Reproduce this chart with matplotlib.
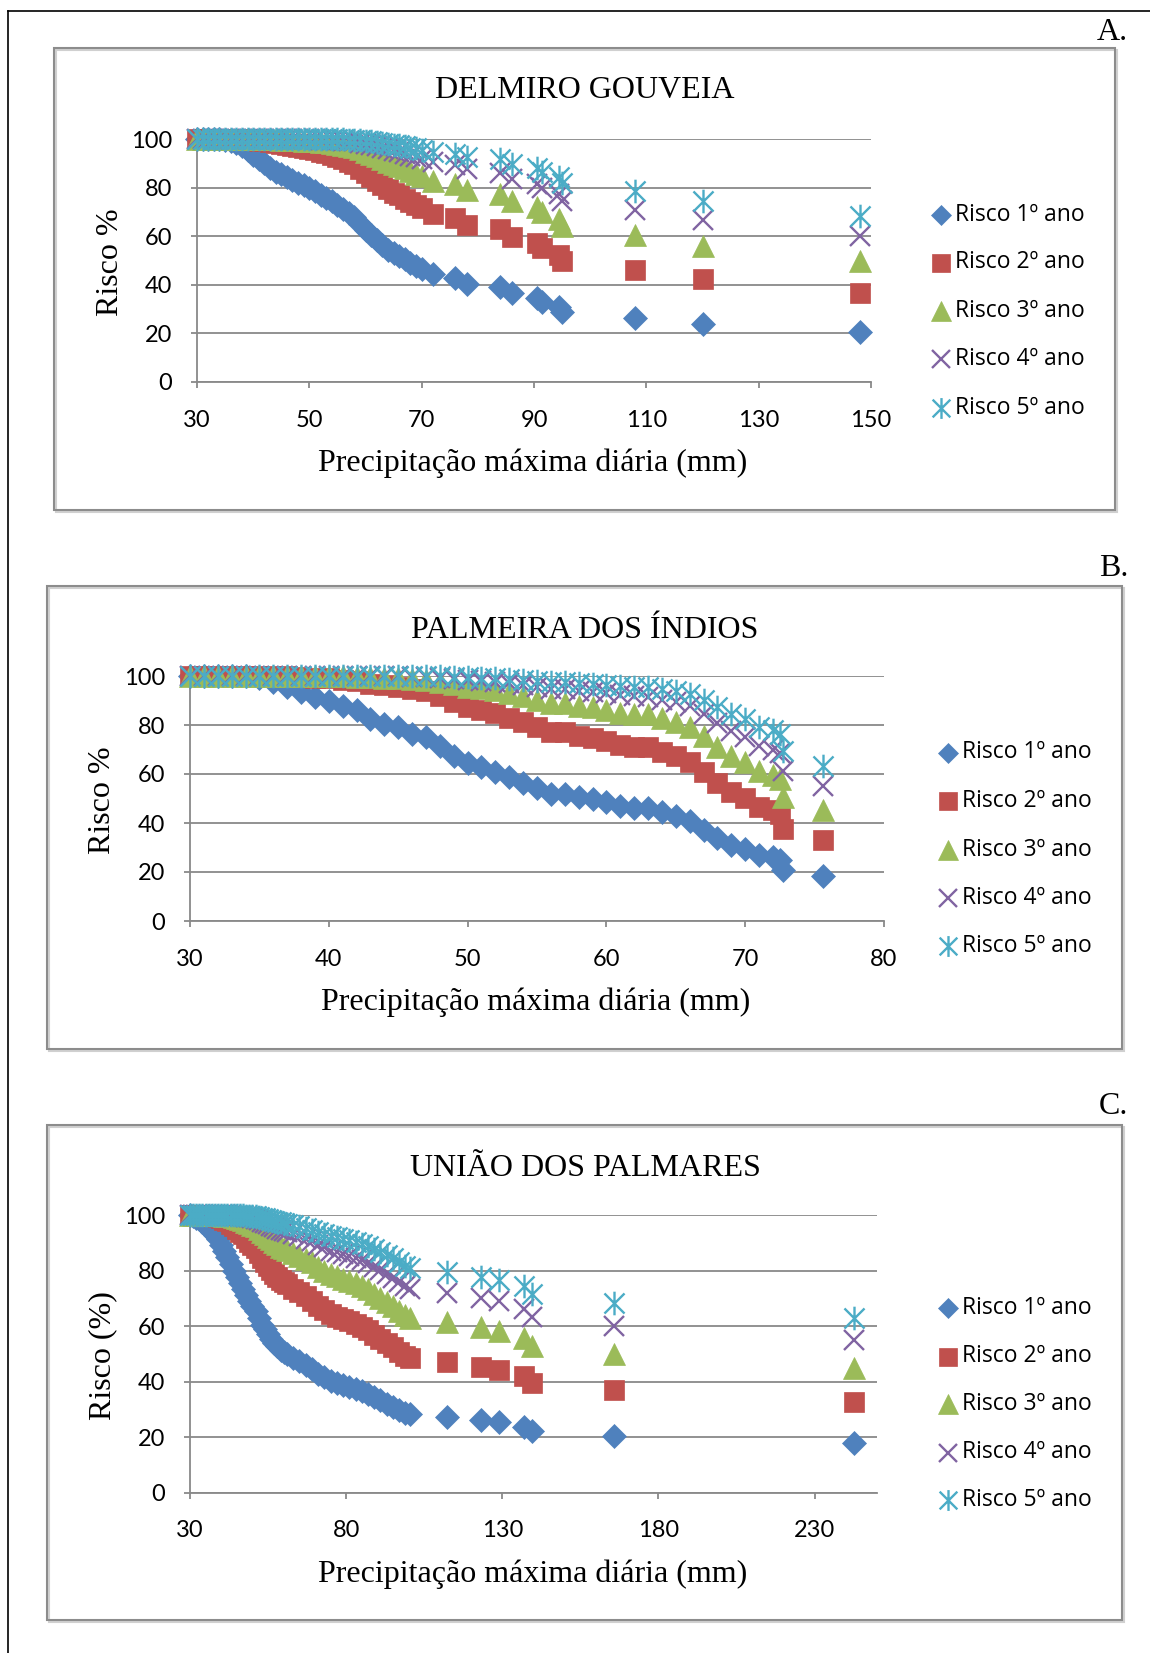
import matplotlib
matplotlib.use('Agg')
from matplotlib import pyplot as plt
from matplotlib.patches import Rectangle
from matplotlib.lines import Line2D
from matplotlib.path import Path

# ---- dados: precipitação (mm) e risco (%) para 1 a 5 anos ----
labels = ['Risco 1º ano', 'Risco 2º ano', 'Risco 3º ano', 'Risco 4º ano', 'Risco 5º ano']

# A. Delmiro Gouveia
a_x = [30, 31, 32, 33, 34, 35, 36, 37, 38, 39, 40, 41, 42, 43, 44, 45, 46, 47, 48, 49, 50,
       51, 52, 53, 54, 55, 56, 57, 58, 59, 60, 61, 62, 63, 64, 65, 66, 67, 68, 69, 70,
       72, 76, 78, 84, 86, 90.5, 91.5, 94.5, 95, 108, 120, 148]
a_r1 = [100, 100, 100, 100, 99.9, 99.7, 99.3, 98.5, 97, 95.3, 93.5, 91.8, 90, 88.2, 86.5, 85.5,
        84.5, 83.3, 82, 81, 79.8, 78.5, 77, 75.8, 74.5, 72.8, 71, 69.5, 68, 65, 62.5, 60.5, 58.5,
        56.5, 54.5, 53, 52, 50.5, 49, 47.8, 46.5,
        44.5, 43, 40.5, 39, 36.5, 34.5, 33, 31, 29, 26.5, 24, 20.5]
a_r2 = [100, 100, 100, 100, 100, 100, 100, 100, 99.9, 99.8, 99.6, 99.3, 99.0, 98.6, 98.2, 97.9,
        97.6, 97.2, 96.8, 96.4, 95.9, 95.4, 94.7, 94.1, 93.5, 92.6, 91.6, 90.7, 89.8, 87.8, 85.9,
        84.4, 82.8, 81.1, 79.3, 77.9, 77.0, 75.5, 74.0, 72.8, 71.4,
        69.2, 67.5, 64.6, 62.8, 59.7, 57.1, 55.1, 52.4, 49.6, 46.0, 42.2, 36.8]
a_r3 = [100, 100, 100, 100, 100, 100, 100, 100, 100, 100, 100, 99.9, 99.9, 99.8, 99.8, 99.7,
        99.6, 99.5, 99.4, 99.3, 99.2, 99.0, 98.8, 98.6, 98.3, 98.0, 97.6, 97.2, 96.7, 95.7, 94.7,
        93.8, 92.9, 91.8, 90.6, 89.6, 88.9, 87.9, 86.7, 85.8, 84.7,
        82.9, 81.5, 78.9, 77.3, 74.4, 71.9, 69.9, 67.1, 64.2, 60.3, 56.1, 49.8]
a_r4 = [100, 100, 100, 100, 100, 100, 100, 100, 100, 100, 100, 100, 100, 100, 100, 100,
        99.9, 99.9, 99.9, 99.9, 99.8, 99.8, 99.7, 99.7, 99.6, 99.5, 99.3, 99.1, 99.0, 98.5, 98.0,
        97.6, 97.0, 96.4, 95.7, 95.1, 94.7, 94.0, 93.2, 92.6, 91.8,
        90.5, 89.4, 87.5, 86.2, 83.7, 81.6, 79.8, 77.3, 74.6, 70.8, 66.6, 60.1]
a_r5 = [100, 100, 100, 100, 100, 100, 100, 100, 100, 100, 100, 100, 100, 100, 100, 100,
        100, 100, 100, 100, 100, 99.9, 99.9, 99.9, 99.9, 99.9, 99.8, 99.7, 99.7, 99.5, 99.3,
        99.0, 98.8, 98.4, 98.0, 97.7, 97.5, 97.0, 96.5, 96.1, 95.6,
        94.7, 94.0, 92.5, 91.6, 89.7, 87.9, 86.5, 84.4, 82.0, 78.5, 74.6, 68.2]

# B. Palmeira dos Índios
b_x = [30, 31, 32, 33, 34, 35, 36, 37, 38, 39, 40, 41, 42, 43, 44, 45, 46, 47, 48, 49, 50,
       51, 52, 53, 54, 55, 56, 57, 58, 59, 60, 61, 62, 63, 64, 65, 66, 67, 68, 69, 70,
       71, 72, 72.5, 72.7, 75.6]
b_r1 = [100, 100, 100, 100, 99.8, 99.2, 97.5, 95.5, 93.5, 91.5, 89.8, 87.8, 86, 82.5, 80.5, 79,
        76.5, 75, 71.5, 67.5, 64.5, 62.8, 61, 58.8, 56.5, 54.2, 52, 52, 50.5, 49.8, 48.5, 47,
        46.3, 46.2, 44.3, 42.8, 40.7, 37.3, 33.8, 31.2, 29.5, 27, 26, 25, 21, 18.2]
b_r2 = [100, 100, 100, 100, 100, 100, 99.9, 99.8, 99.6, 99.3, 99.0, 98.5, 98.0, 96.9, 96.2,
        95.6, 94.5, 93.8, 91.9, 89.4, 87.4, 86.2, 84.8, 83.0, 81.1, 79.0, 77.0, 77.0, 75.5, 74.8,
        73.5, 71.9, 71.2, 71.1, 69.0, 67.3, 64.8, 60.7, 56.2, 52.7, 50.3, 46.7, 45.2, 43.8, 37.6,
        33.1]
b_r3 = [100, 100, 100, 100, 100, 100, 100, 100, 100, 99.9, 99.9, 99.8, 99.7, 99.5, 99.3, 99.1,
        98.7, 98.4, 97.7, 96.6, 95.5, 94.9, 94.1, 93.0, 91.8, 90.4, 88.9, 88.9, 87.9, 87.3, 86.3,
        85.1, 84.5, 84.4, 82.7, 81.3, 79.2, 75.4, 71.0, 67.4, 65.0, 61.1, 59.5, 57.8, 50.7, 45.3]
b_r4 = [100, 100, 100, 100, 100, 100, 100, 100, 100, 100, 100, 100, 100, 99.9, 99.9, 99.8,
        99.7, 99.6, 99.3, 98.9, 98.4, 98.1, 97.7, 97.1, 96.4, 95.6, 94.7, 94.7, 94.0, 93.6, 93.0,
        92.1, 91.7, 91.6, 90.4, 89.3, 87.6, 84.5, 80.8, 77.6, 75.3, 71.6, 70.0, 68.4, 61.1, 55.2]
b_r5 = [100, 100, 100, 100, 100, 100, 100, 100, 100, 100, 100, 100, 100, 100, 100, 100,
        99.9, 99.9, 99.8, 99.6, 99.4, 99.3, 99.1, 98.8, 98.4, 98.0, 97.5, 97.5, 97.0, 96.8, 96.4,
        95.8, 95.5, 95.5, 94.6, 93.9, 92.7, 90.3, 87.3, 84.6, 82.6, 79.3, 77.8, 76.3, 69.2, 63.4]

# C. União dos Palmares
c_x = [30, 31, 32, 33, 34, 35, 36, 37, 38, 39, 40, 41, 42, 43, 44, 45, 46, 47, 48, 49, 50,
       51, 52, 53, 54, 55, 56, 57, 58, 59, 60, 61, 63, 65, 67, 69, 71, 73, 75, 77, 79, 81,
       83, 85, 87, 89, 91, 93, 95, 97, 99, 100.5,
       112.2, 123.1, 128.9, 136.9, 139.6, 165.9, 242.5]
c_r1 = [100, 99.5, 99, 98.5, 97.5, 96.5, 95.3, 94, 92.8, 91.5, 89.3, 87, 84.8, 82.5, 80, 77.5,
        75.5, 73.5, 71.3, 69, 67.3, 65.5, 63, 60.5, 58.8, 57, 55.5, 54, 52.7, 51.5, 50.7, 50,
        48.5, 47.3, 46, 44.5, 42.8, 41.5, 40.2, 39.5, 38.8, 38.2, 37.3, 36.5, 35.5, 34.3, 33.2,
        32, 31, 29.8, 28.8, 28.2,
        27.2, 26.0, 25.3, 23.8, 22.2, 20.5, 18.0]
c_r2 = [100, 100, 100, 100, 99.9, 99.9, 99.8, 99.6, 99.5, 99.3, 98.9, 98.3, 97.7, 96.9, 96.0,
        94.9, 94.0, 93.0, 91.8, 90.4, 89.3, 88.1, 86.3, 84.4, 83.0, 81.5, 80.2, 78.8, 77.6, 76.5,
        75.7, 75.0, 73.5, 72.2, 70.8, 69.2, 67.3, 65.8, 64.2, 63.4, 62.5, 61.8, 60.7, 59.7, 58.4,
        56.8, 55.4, 53.8, 52.4, 50.7, 49.3, 48.4,
        47.0, 45.2, 44.2, 41.9, 39.5, 36.8, 32.8]
c_r3 = [100, 100, 100, 100, 100, 100, 100, 100, 100, 99.9, 99.9, 99.8, 99.6, 99.5, 99.2, 98.9,
        98.5, 98.1, 97.6, 97.0, 96.5, 95.9, 94.9, 93.8, 93.0, 92.0, 91.2, 90.3, 89.4, 88.6, 88.0,
        87.5, 86.3, 85.4, 84.3, 82.9, 81.3, 80.0, 78.6, 77.9, 77.1, 76.4, 75.4, 74.4, 73.2, 71.6,
        70.2, 68.6, 67.1, 65.4, 63.9, 63.0,
        61.4, 59.5, 58.3, 55.8, 52.9, 49.8, 44.9]
c_r4 = [100, 100, 100, 100, 100, 100, 100, 100, 100, 100, 100, 100, 99.9, 99.9, 99.8, 99.7,
        99.6, 99.5, 99.3, 99.1, 98.9, 98.6, 98.1, 97.6, 97.1, 96.6, 96.1, 95.5, 95.0, 94.5, 94.1,
        93.8, 93.0, 92.3, 91.5, 90.5, 89.3, 88.3, 87.2, 86.6, 86.0, 85.4, 84.5, 83.7, 82.7, 81.4,
        80.1, 78.6, 77.3, 75.7, 74.3, 73.4,
        71.9, 70.0, 68.9, 66.3, 63.4, 60.1, 54.8]
c_r5 = [100, 100, 100, 100, 100, 100, 100, 100, 100, 100, 100, 100, 100, 100, 100, 99.9,
        99.9, 99.9, 99.8, 99.7, 99.6, 99.5, 99.3, 99.0, 98.8, 98.5, 98.3, 97.9, 97.6, 97.3, 97.1,
        96.9, 96.4, 95.9, 95.4, 94.7, 93.9, 93.2, 92.4, 91.9, 91.4, 91.0, 90.3, 89.7, 88.8, 87.8,
        86.7, 85.5, 84.4, 82.9, 81.7, 80.9,
        79.6, 77.8, 76.7, 74.3, 71.5, 68.2, 62.9]

# ---- estilo ----
W, H = 1150, 1653
colors = ['#4F81BD', '#C0504D', '#9BBB59', '#8064A2', '#4BACC6']
asterisk = Path([(0, -1), (0, 1), (-0.85, -0.85), (0.85, 0.85), (-0.85, 0.85), (0.85, -0.85)],
                [Path.MOVETO, Path.LINETO] * 3)
markers = ['D', 's', '^', 'x', asterisk]
sizes = [12, 15, 16, 15, 17]
leg_sizes = [10.5, 13, 14, 13, 15]
GRAY = '#898989'
SERIF = 'Liberation Serif'
SANS = 'Lato'
LEG_FONT = 'Open Sans'

fig = plt.figure(figsize=(W / 100, H / 100), dpi=100)


def fx(px):
    return px / W


def fy(py):
    return 1 - py / H


def marker_kw(i, size):
    kw = dict(linestyle='none', marker=markers[i], markersize=size, color=colors[i])
    if i < 3:
        kw.update(markeredgecolor=colors[i], markeredgewidth=0.5)
    else:
        kw.update(markeredgewidth=1.7)
    return kw


def panel(box, axbox, x, risks, xlim, xticks, title, title_y, ylabel, ylabel_x,
          xlabel_y, letter, letter_y, leg_x, leg_rows):
    # moldura do gráfico
    x0, y0, x1, y1 = box
    fig.add_artist(Rectangle((fx(x0 + 2), fy(y1 + 2)), fx(x1 - x0), (y1 - y0) / H,
                             transform=fig.transFigure, fill=False, ec='#d0d0d0', lw=1.5))
    fig.add_artist(Rectangle((fx(x0), fy(y1)), fx(x1 - x0), (y1 - y0) / H,
                             transform=fig.transFigure, fill=False, ec='#8c8c8c', lw=1.5))

    l, t, r, b = axbox
    ax = fig.add_axes([fx(l), fy(b), fx(r - l), (b - t) / H])
    for i, y in enumerate(risks):
        ax.plot(x, y, clip_on=False, zorder=3 + i, **marker_kw(i, sizes[i]))

    ax.set_xlim(*xlim)
    ax.set_ylim(0, 100)
    ax.set_xticks(xticks)
    ax.set_yticks(range(0, 101, 20))
    ax.yaxis.grid(True, color=GRAY, lw=1.3)
    ax.set_axisbelow(True)
    for s in ['top', 'right']:
        ax.spines[s].set_visible(False)
    for s in ['left', 'bottom']:
        ax.spines[s].set_color(GRAY)
        ax.spines[s].set_linewidth(1.3)
    ax.tick_params(axis='x', direction='out', length=4, width=1.3, color=GRAY, pad=16,
                   labelsize=17)
    ax.tick_params(axis='y', direction='out', length=4, width=1.3, color=GRAY, pad=14,
                   labelsize=17)
    for lab in ax.get_xticklabels() + ax.get_yticklabels():
        lab.set_family(SANS)

    fig.text(fx(585), fy(title_y), title, ha='center', va='center', family=SERIF, fontsize=23)
    fig.text(fx((l + r) / 2 - 1), fy(xlabel_y), 'Precipitação máxima diária (mm)',
             ha='center', va='center', family=SERIF, fontsize=23)
    fig.text(fx(ylabel_x), fy((t + b) / 2 + 2), ylabel, ha='center', va='center',
             rotation=90, family=SERIF, fontsize=23)
    fig.text(fx(1128), fy(letter_y), letter, ha='right', va='center', family=SERIF,
             fontsize=23)

    # legenda
    for i, ry in enumerate(leg_rows):
        fig.add_artist(Line2D([fx(leg_x)], [fy(ry)], transform=fig.transFigure,
                              **marker_kw(i, leg_sizes[i])))
        fig.text(fx(leg_x + 14), fy(ry), labels[i], ha='left', va='center', family=LEG_FONT,
                 fontsize=16.5)
    return ax


# borda externa da figura
fig.add_artist(Line2D([fx(7.5), fx(7.5)], [fy(11), 0], transform=fig.transFigure,
                      color='black', lw=1.2))
fig.add_artist(Line2D([fx(7.5), 1], [fy(11), fy(11)], transform=fig.transFigure,
                      color='black', lw=1.2))

panel((54, 48, 1115, 510), (197, 139, 871, 382), a_x, [a_r1, a_r2, a_r3, a_r4, a_r5],
      (30, 150), range(30, 151, 20), 'DELMIRO GOUVEIA', 91, 'Risco %', 110, 463,
      'A.', 32, 941, [215, 262.5, 311, 359, 408])

panel((47, 586, 1122, 1049), (190, 676, 884, 921), b_x, [b_r1, b_r2, b_r3, b_r4, b_r5],
      (30, 80), range(30, 81, 10), 'PALMEIRA DOS ÍNDIOS', 630, 'Risco %', 103, 1002,
      'B.', 569, 947.5, [752.5, 801, 849.5, 898, 945.5])

panel((47, 1125, 1122, 1620), (190, 1215, 877, 1492.6), c_x, [c_r1, c_r2, c_r3, c_r4, c_r5],
      (30, 250), range(30, 231, 50), 'UNIÃO DOS PALMARES', 1169, 'Risco (%)', 103, 1574,
      'C.', 1107, 947.5, [1308, 1356.5, 1404, 1452.5, 1500])

fig.savefig('out.png', dpi=100)
